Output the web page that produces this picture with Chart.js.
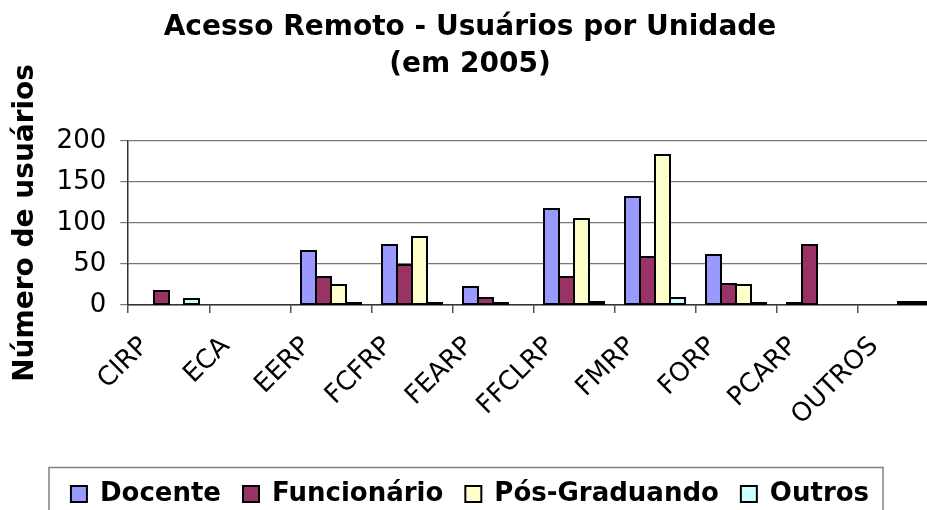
<!DOCTYPE html>
<html>
<head>
<meta charset="utf-8">
<script src="https://cdn.jsdelivr.net/npm/chart.js@4/dist/chart.umd.min.js"></script>
<style>
  html, body { margin: 0; padding: 0; background: #fff; overflow: hidden; width: 927px; height: 510px; }
  #wrap { position: absolute; left: 0; top: 0; width: 960px; height: 517px; }
</style>
</head>
<body>
<div id="wrap"><canvas id="c" width="960" height="517"></canvas></div>
<script>
const categories = ["CIRP", "ECA", "EERP", "FCFRP", "FEARP", "FFCLRP", "FMRP", "FORP", "PCARP", "OUTROS"];
const docente = [0, 0, 66, 73, 22, 117, 132, 61, 2, 0];
const funcionario = [17, 0, 34, 49, 9, 34, 58, 26, 73, 0];
const posGraduando = [0, 0, 24, 83, 2, 105, 183, 24, 0, 4];
const outros = [7, 0, 2, 2, 0, 4, 9, 2, 0, 4];
const seriesNames = ["Docente", "Funcionário", "Pós-Graduando", "Outros"];
const yTicks = [0, 50, 100, 150, 200];

const FONT = "'DejaVu Sans', Verdana, sans-serif";

// Outline bars (crisp 2px black) using the positions computed by Chart.js
const barOutline = {
  id: 'barOutline',
  afterDatasetsDraw(chart) {
    const ctx = chart.ctx;
    ctx.save();
    ctx.strokeStyle = '#000';
    ctx.lineWidth = 2;
    chart.data.datasets.forEach((d, i) => {
      const meta = chart.getDatasetMeta(i);
      meta.data.forEach((bar, j) => {
        if (!d.data[j]) return;
        const p = bar.getProps(['x', 'y', 'base', 'width'], true);
        const l = Math.round(p.x - p.width / 2), r = Math.round(p.x + p.width / 2);
        const t = Math.round(p.y), b = Math.round(p.base);
        ctx.strokeRect(l, t, r - l, b - t);
      });
    });
    ctx.restore();
  }
};

const legendBox = {
  id: 'legendBox',
  afterDraw(chart) {
    const ctx = chart.ctx;
    ctx.save();
    ctx.strokeStyle = '#808080';
    ctx.lineWidth = 1.5;
    ctx.strokeRect(49, 467.5, 834, 80);
    ctx.restore();
  }
};

function ds(label, data, color) {
  return { label, data, backgroundColor: color };
}

new Chart(document.getElementById('c'), {
  type: 'bar',
  data: {
    labels: categories,
    datasets: [
      ds(seriesNames[0], docente, '#9999FF'),
      ds(seriesNames[1], funcionario, '#993366'),
      ds(seriesNames[2], posGraduando, '#FFFFCC'),
      ds(seriesNames[3], outros, '#CCFFFF')
    ]
  },
  options: {
    responsive: false,
    devicePixelRatio: 1,
    animation: false,
    datasets: {
      bar: {
        borderWidth: 0,
        barPercentage: 1.0,
        categoryPercentage: 0.74
      }
    },
    layout: { padding: { left: 1, right: 21, top: 10, bottom: 0 } },
    plugins: {
      title: {
        display: true,
        text: ["Acesso Remoto - Usuários por Unidade", "(em 2005)"],
        color: '#000',
        font: { family: FONT, size: 28, weight: 'bold', lineHeight: 1.3 },
        padding: { top: 0, bottom: 58 }
      },
      legend: {
        position: 'bottom',
        labels: {
          color: '#000',
          font: { family: FONT, size: 26, weight: 'bold' },
          boxWidth: 16,
          boxHeight: 16,
          padding: 22,
          generateLabels(chart) {
            return chart.data.datasets.map((d, i) => ({
              text: d.label,
              fillStyle: d.backgroundColor,
              strokeStyle: '#000',
              lineWidth: 2,
              hidden: false,
              datasetIndex: i,
              fontColor: '#000'
            }));
          }
        }
      },
      tooltip: { enabled: false }
    },
    scales: {
      y: {
        min: 0, max: 200,
        afterBuildTicks(scale) { scale.ticks = yTicks.map(v => ({ value: v })); },
        ticks: { color: '#000', font: { family: FONT, size: 26 }, padding: 14 },
        grid: { color: '#777', lineWidth: 1.2, tickLength: 8, drawTicks: true },
        border: { color: '#333', width: 1.5 },
        title: {
          display: true,
          text: "Número de usuários",
          color: '#000',
          font: { family: FONT, size: 28, weight: 'bold', lineHeight: 1.2 },
          padding: { top: 8, bottom: 0 }
        }
      },
      x: {
        ticks: { color: '#000', font: { family: FONT, size: 26 }, maxRotation: 45, minRotation: 45, padding: 18, labelOffset: -24 },
        grid: { offset: true, drawOnChartArea: false, color: '#555', lineWidth: 1.5, tickLength: 8 },
        border: { color: '#333', width: 1.5 },
        afterFit(scale) { scale.height = 154; }
      }
    }
  },
  plugins: [barOutline, legendBox]
});
</script>
</body>
</html>
